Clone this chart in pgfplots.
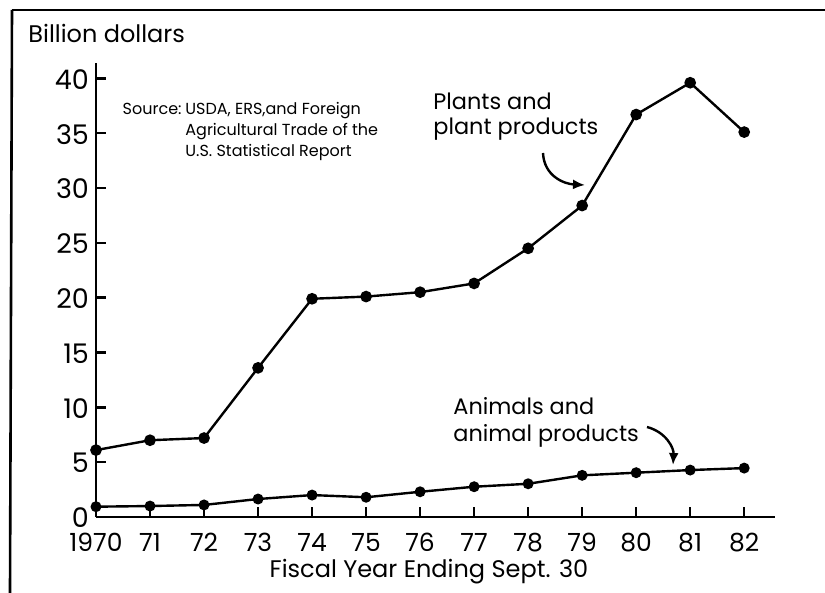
\documentclass[border=0pt]{standalone}
\usepackage{fontspec}
\setmainfont{Poppins}
\usepackage{pgfplots}
\pgfplotsset{compat=1.18}
\usetikzlibrary{arrows.meta}
\begin{document}
\begin{tikzpicture}
\useasboundingbox[fill=white] (0,0) rectangle (412.5pt,-296.5pt);
% frame
\draw[line width=1.3pt] (6pt,-5pt) -- (412.5pt,-5pt);
\draw[line width=1.3pt] (6pt,-5pt) -- (5pt,-296.5pt);
\begin{axis}[
  at={(48pt,-258.5pt)}, anchor=origin,
  scale only axis, width=339.5pt, height=227pt,
  axis x line=bottom, axis y line=left,
  axis line style={line width=1.3pt,-},
  xmin=1970, xmax=1982.57, ymin=0, ymax=41.4,
  xtick={1970,...,1982},
  xticklabels={1970,71,72,73,74,75,76,77,78,79,80,81,82},
  ytick={0,5,...,40},
  tick align=inside,
  major tick length=5pt,
  tick style={line width=1.2pt, black},
  /pgf/number format/assume math mode=true,
  xticklabel style={font=\fontsize{12.5}{14}\selectfont, yshift=-4.5pt},
  yticklabel style={font=\fontsize{13.5}{15}\selectfont, yshift=-0.5pt},
  clip=false,
]
\addplot[black, line width=1.2pt, mark=*, mark size=2.3pt] coordinates {
(1970,6.1) (1971,7.0) (1972,7.2) (1973,13.6) (1974,19.9) (1975,20.1)
(1976,20.5) (1977,21.3) (1978,24.5) (1979,28.4) (1980,36.7) (1981,39.6) (1982,35.1)
};
\addplot[black, line width=1.2pt, mark=*, mark size=2.1pt] coordinates {
(1970,0.94) (1971,1.0) (1972,1.1) (1973,1.64) (1974,2.0) (1975,1.8)
(1976,2.3) (1977,2.76) (1978,3.03) (1979,3.8) (1980,4.04) (1981,4.28) (1982,4.46)
};
\end{axis}
% texts
\node[anchor=base west, inner sep=0pt, font=\fontsize{12}{14}\selectfont] at (14pt,-21.5pt) {Billion dollars};
\begin{scope}[every node/.style={inner sep=0pt, font=\fontsize{8}{9}\selectfont}]
\node[anchor=base east] at (91pt,-57.5pt) {Source:};
\node[anchor=base west] at (92.5pt,-57.5pt) {USDA, ERS,and Foreign};
\node[anchor=base west] at (92.5pt,-68pt) {Agricultural Trade of the};
\node[anchor=base west] at (92.5pt,-78.5pt) {U.S. Statistical Report};
\end{scope}
\begin{scope}[every node/.style={anchor=base west, inner sep=0pt, font=\fontsize{11.2}{13}\selectfont}]
\node at (216.5pt,-55pt) {Plants and};
\node at (216.5pt,-67.5pt) {plant products};
\node at (226.5pt,-207.5pt) {Animals and};
\node at (226.5pt,-220.8pt) {animal products};
\end{scope}
\node[anchor=base, inner sep=0pt, font=\fontsize{12}{14}\selectfont] at (214.5pt,-288.5pt) {Fiscal Year Ending Sept. 30};
% arrows
\draw[line width=1.2pt, -{Latex[length=6pt,width=5pt]}] (271.5pt,-76.5pt) .. controls (272pt,-88pt) and (282pt,-92pt) .. (292.5pt,-92.5pt);
\draw[line width=1.2pt, -{Latex[length=6pt,width=5pt]}] (323.5pt,-213.5pt) .. controls (333pt,-216pt) and (337pt,-224pt) .. (336.5pt,-232.5pt);
\end{tikzpicture}
\end{document}
